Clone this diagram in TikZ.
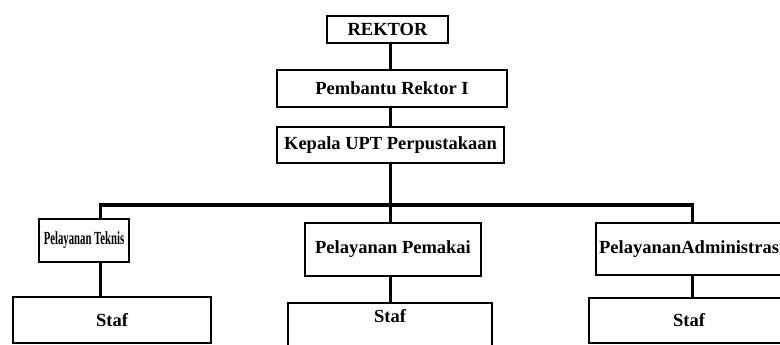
\documentclass[tikz,border=0pt]{standalone}
\usepackage{fontspec}
\setmainfont{Liberation Serif}
\usetikzlibrary{positioning}
\tikzstyle{unit} = [rectangle, draw=black, line width=1.6pt, text centered, font=\fontsize{18.5}{20}\selectfont\bfseries]
\tikzstyle{open} = [inner ysep=0pt, text height=20pt, text depth=50pt]
\tikzstyle{link} = [line width=3pt]
\tikzstyle{bar} = [line width=4.5pt]

\begin{document}
\begin{tikzpicture}[x=1pt, y=-1pt]
		\useasboundingbox (0,0) rectangle (780,345);
		\clip (0,0) rectangle (780,345);
		\node (rektor) [unit, minimum width=121, minimum height=27] at (387.5,29.5) {REKTOR};
		\node (pembantu) [unit, minimum width=230, minimum height=37] at (392,88.5) {Pembantu Rektor I};
		\node (kepala) [unit, minimum width=227, minimum height=36] at (390.5,145) {Kepala UPT Perpustakaan};
		\coordinate (barkiri) at (100,205);
		\coordinate (barkanan) at (692,205);
		\node (teknis) [unit, minimum width=90, minimum height=43, inner xsep=1pt] at (84,240.5) {\scalebox{0.58}[1]{Pelayanan Teknis}};
		\node (pemakai) [unit, minimum width=176, minimum height=53] at (393,249.5) {Pelayanan Pemakai};
		\node (admin) [unit, anchor=west, text width=220, align=left, minimum height=52] at (595,249) {PelayananAdministrasi};
		\node (stafkiri) [unit, minimum width=198, minimum height=46] at (112,320) {Staf};
		\node (staftengah) [unit, open, anchor=north, minimum width=204] at (390,302) {Staf};
		\node (stafkanan) [unit, minimum width=200, minimum height=45] at (689,320.5) {Staf};
		\draw [link] (rektor.south -| kepala.north) -- (pembantu.north -| kepala.north);
		\draw [link] (pembantu.south -| kepala.north) -- (kepala.north);
		\draw [link] (kepala.south) -- (kepala.south |- barkiri);
		\draw [link] (barkiri) -- (barkiri |- teknis.north);
		\draw [link] (barkanan) -- (barkanan |- admin.north);
		\draw [bar] ([xshift=-1.5pt]barkiri) -- ([xshift=1.5pt]barkanan);
		\draw [link] (kepala.south |- barkiri) -- (kepala.south |- pemakai.north);
		\draw [link] (teknis.south -| barkiri) -- (stafkiri.north -| barkiri);
		\draw [link] (pemakai.south -| kepala.south) -- (staftengah.north -| kepala.south);
		\draw [link] (admin.south -| barkanan) -- (stafkanan.north -| barkanan);
	\end{tikzpicture}
\end{document}
